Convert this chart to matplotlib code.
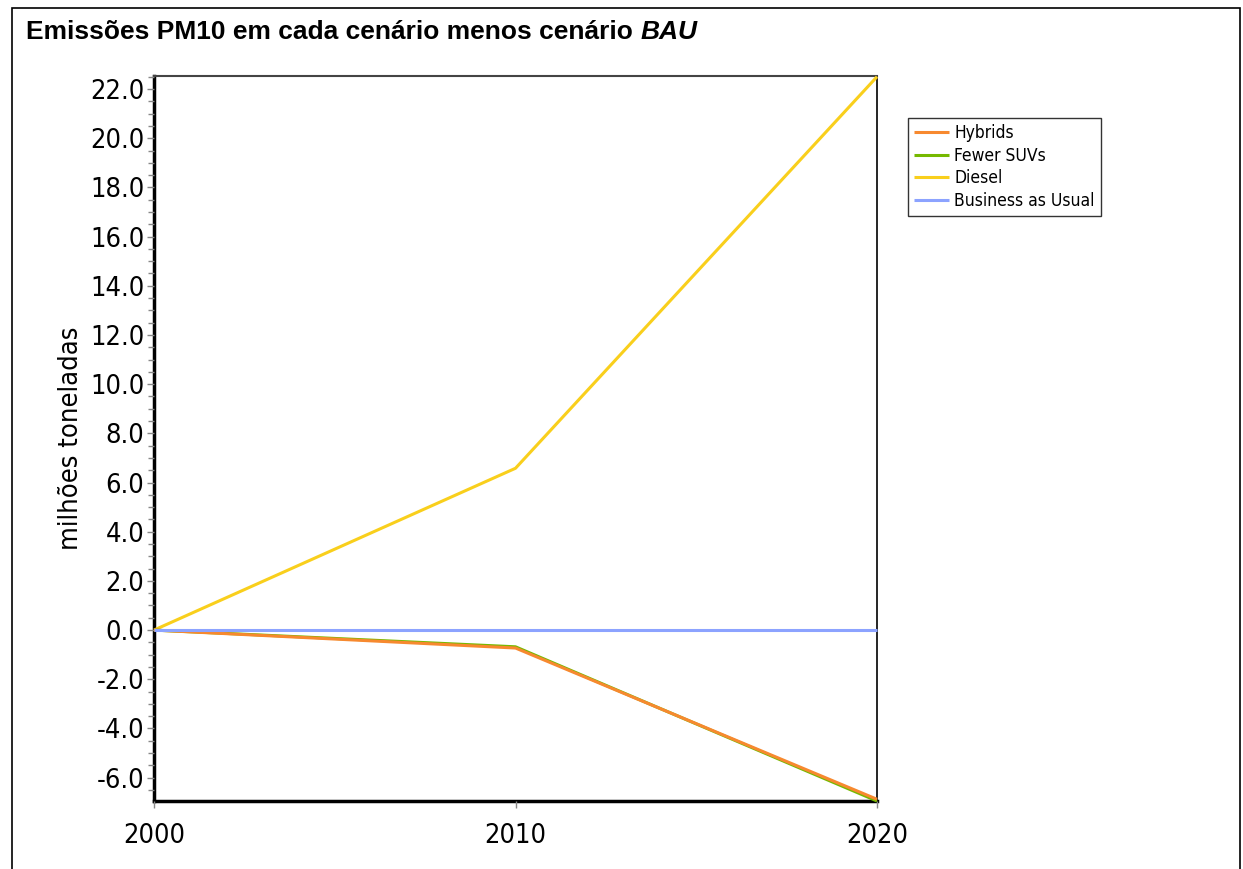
import matplotlib
matplotlib.use("Agg")
import matplotlib.pyplot as plt
from matplotlib.ticker import MultipleLocator, FormatStrFormatter
from matplotlib.patches import Rectangle
from matplotlib.font_manager import FontProperties

years = [2000, 2010, 2020]
series_names = ["Hybrids", "Fewer SUVs", "Diesel", "Business as Usual"]
hybrids = [0.0, -0.73, -6.88]
fewer_suvs = [0.0, -0.68, -6.95]
diesel = [0.0, 6.58, 22.5]
bau = [0.0, 0.0, 0.0]
colors = ["#f7892f", "#76b900", "#f9cf1c", "#8ca3ff"]

tick_fp = FontProperties(family="DejaVu Sans", stretch="condensed", size=19.5)
legend_fp = FontProperties(family="DejaVu Sans", stretch="condensed", size=12.5)

fig = plt.figure(figsize=(12.43, 8.69), dpi=100)
fig.patches.append(Rectangle((12 / 1243, -0.01), (1240 - 12) / 1243, 1 - 8 / 869 + 0.01,
                             transform=fig.transFigure, fill=False,
                             edgecolor="black", linewidth=1.2))

ax = fig.add_axes([154 / 1243, 1 - 801 / 869, (877 - 154) / 1243, (801 - 76) / 869])

values = [hybrids, fewer_suvs, diesel, bau]
zorders = [4, 3, 2, 5]
lines = []
for name, vals, c, z in zip(series_names, values, colors, zorders):
    ln, = ax.plot(years, vals, color=c, linewidth=2.2, label=name, zorder=z,
                  solid_capstyle="butt", clip_on=False)
    lines.append(ln)

ax.set_xlim(2000, 2020)
ax.set_ylim(-6.95, 22.53)
ax.set_xticks(years)
ax.yaxis.set_major_locator(MultipleLocator(2.0))
ax.yaxis.set_minor_locator(MultipleLocator(0.5))
ax.yaxis.set_major_formatter(FormatStrFormatter("%.1f"))

for lab in ax.get_xticklabels() + ax.get_yticklabels():
    lab.set_fontproperties(tick_fp)

ax.tick_params(axis="both", which="major", direction="out", length=5, width=1,
               color="#888888", pad=2)
ax.tick_params(axis="y", which="minor", direction="out", length=4, width=1,
               color="#888888")
ax.tick_params(axis="x", pad=11)

ax.spines["left"].set_linewidth(2.5)
ax.spines["bottom"].set_linewidth(2.5)
ax.spines["top"].set_linewidth(1.5)
ax.spines["top"].set_color("#444444")
ax.spines["right"].set_linewidth(1.2)
for s in ax.spines.values():
    s.set_zorder(1)

ax.set_ylabel("milhões toneladas", fontproperties=FontProperties(
    family="DejaVu Sans", stretch="condensed", size=19.5), labelpad=4)

fig.text(26 / 1243, 1 - 32 / 869, "Emissões PM10 em cada cenário menos cenário ",
         fontsize=19, fontweight="bold", family="Liberation Sans", va="center")
fig.canvas.draw()
r = fig.canvas.get_renderer()
bb = fig.texts[0].get_window_extent(r)
fig.text(bb.x1 / 1243, 1 - 32 / 869, "BAU", fontsize=19, fontweight="bold",
         fontstyle="italic", family="Liberation Sans", va="center")

leg = fig.legend(handles=lines, loc="upper left",
                 bbox_to_anchor=(908 / 1243, 1 - 118 / 869),
                 frameon=True, fancybox=False, edgecolor="black",
                 prop=legend_fp, handlelength=2.0,
                 handletextpad=0.3, borderpad=0.35, labelspacing=0.27,
                 borderaxespad=0)
leg.get_frame().set_linewidth(1.0)

fig.savefig("out.png", dpi=100)
